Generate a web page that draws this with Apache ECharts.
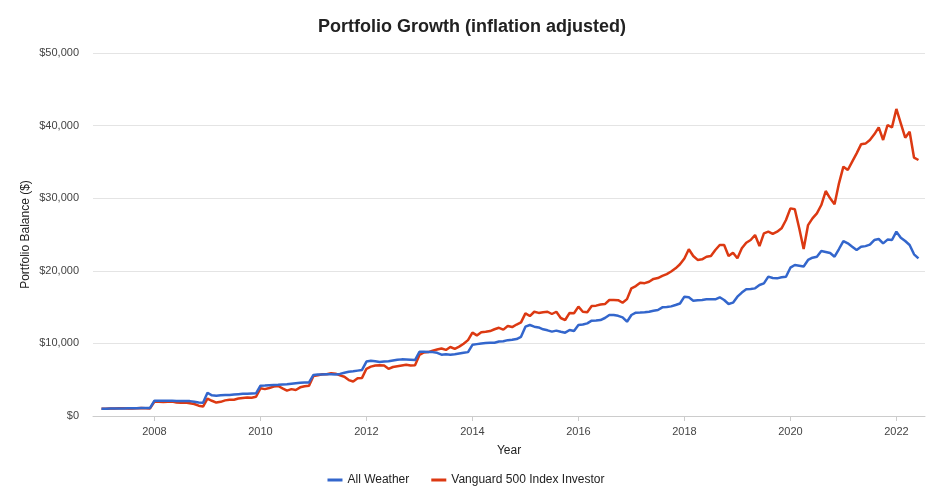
<!DOCTYPE html>
<html><head><meta charset="utf-8">
<script src="https://cdn.jsdelivr.net/npm/echarts@6/dist/echarts.min.js"></script>
<style>html,body{margin:0;padding:0;background:#fff}#c{width:932px;height:491px}</style>
</head><body><div id="c"></div>
<script>
// Monthly balances, starting Jan 2007 (index 0 = start), one value per month-end
const startYear = 2007;
const seriesNames = ['All Weather', 'Vanguard 500 Index Investor'];
const allWeather = [
  1000, 1010, 1020, 1030, 1040, 1050, 1060, 1070, 1080, 1090, 1100, 1110,
  2110, 2110, 2100, 2100, 2090, 2080, 2070, 2060, 2050, 1960, 1850, 1830,
  3200, 2850, 2800, 2850, 2900, 2900, 2950, 3000, 3050, 3050, 3100, 3120,
  4180, 4200, 4240, 4280, 4300, 4340, 4380, 4450, 4520, 4580, 4620, 4630,
  5650, 5700, 5720, 5750, 5740, 5720, 5800, 5950, 6100, 6150, 6250, 6350,
  7500, 7600, 7550, 7450, 7500, 7550, 7650, 7750, 7800, 7780, 7750, 7700,
  8850, 8850, 8800, 8800, 8700, 8450, 8500, 8450, 8500, 8600, 8700, 8800,
  9800, 9900, 10000, 10050, 10100, 10100, 10250, 10300, 10450, 10500, 10600, 10900,
  12300, 12530, 12300, 12200, 11940, 11800, 11620, 11760, 11600, 11480, 11850, 11710,
  12530, 12600, 12760, 13130, 13150, 13220, 13500, 13910, 13910, 13800, 13590, 12990,
  13910, 14230, 14250, 14300, 14370, 14500, 14600, 14970, 15000, 15100, 15290, 15500,
  16440, 16350, 15890, 15950, 15980, 16070, 16070, 16070, 16350, 15980, 15430, 15610,
  16440, 17000, 17450, 17500, 17580, 18040, 18270, 19190, 19000, 18960, 19100, 19190,
  20430, 20800, 20700, 20600, 21490, 21800, 21940, 22730, 22600, 22450, 21940, 23000,
  24100, 23780, 23320, 22870, 23300, 23400, 23600, 24240, 24380, 23780, 24300, 24240,
  25390, 24560, 24100, 23550, 22270, 21720
];
const vanguard500 = [
  1000, 1010, 1030, 1050, 1070, 1060, 1040, 1050, 1080, 1100, 1060, 1050,
  2000, 1950, 1920, 1960, 1990, 1850, 1830, 1850, 1750, 1650, 1420, 1300,
  2400, 2100, 1850, 1950, 2150, 2250, 2250, 2400, 2480, 2550, 2520, 2650,
  3810, 3700, 3850, 4050, 4130, 3800, 3500, 3700, 3580, 3950, 4100, 4180,
  5500, 5600, 5750, 5750, 5900, 5830, 5600, 5400, 4950, 4750, 5200, 5250,
  6500, 6800, 6950, 7000, 6950, 6500, 6750, 6850, 6950, 7050, 6950, 7000,
  8400, 8750, 8800, 9000, 9150, 9300, 9100, 9500, 9250, 9550, 9950, 10450,
  11480, 11100, 11550, 11600, 11700, 11950, 12150, 11900, 12400, 12250, 12600, 12900,
  14140, 13770, 14360, 14200, 14300, 14360, 14050, 14360, 13500, 13220, 14200, 14150,
  15060, 14360, 14300, 15150, 15200, 15350, 15420, 15980, 15980, 15950, 15600, 16100,
  17590, 17900, 18360, 18300, 18500, 18880, 19000, 19300, 19550, 19900, 20340, 20900,
  21700, 22960, 22040, 21500, 21580, 21940, 22040, 22870, 23550, 23550, 22040, 22500,
  21720, 23100, 23870, 24240, 24930, 23410, 25160, 25390, 25080, 25390, 25850, 27000,
  28600, 28470, 25850, 23000, 26300, 27230, 27920, 29060, 30990, 29980, 29160, 32050,
  34340, 33880, 35030, 36180, 37420, 37520, 38020, 38800, 39760, 38020, 40080, 39750,
  42290, 40320, 38340, 39160, 35580, 35260
];
const xTickYears = [2008, 2010, 2012, 2014, 2016, 2018, 2020, 2022];
const yTicks = [0, 10000, 20000, 30000, 40000, 50000];

const toPoints = arr => arr.map((v, i) => [startYear + i / 12, v]);
const FONT = '"Liberation Sans", Arial, sans-serif';

const chart = echarts.init(document.getElementById('c'), null, {renderer: 'canvas'});
chart.setOption({
  animation: false,
  color: ['#3366cc', '#dc3912'],
  title: {
    text: 'Portfolio Growth (inflation adjusted)',
    left: 313, top: 13,
    textStyle: {fontFamily: FONT, fontSize: 18, fontWeight: 'bold', color: '#222'}
  },
  legend: {
    bottom: 0, left: 'center',
    itemWidth: 15, itemHeight: 3, itemGap: 22,
    icon: 'rect',
    textStyle: {fontFamily: FONT, fontSize: 12, color: '#222'},
    data: seriesNames
  },
  grid: {left: 93, right: 7, top: 53, bottom: 75},
  xAxis: {
    type: 'value',
    min: 2006.84, max: 2022.54,
    name: 'Year', nameLocation: 'middle', nameGap: 29,
    nameTextStyle: {fontFamily: FONT, fontSize: 12, color: '#222'},
    axisLine: {show: true, lineStyle: {color: '#ccc'}},
    axisTick: {show: true, customValues: xTickYears, length: 5, lineStyle: {color: '#ccc'}},
    axisLabel: {customValues: xTickYears, fontFamily: FONT, fontSize: 11, color: '#444', margin: 10,
      formatter: v => String(Math.round(v))},
    splitLine: {show: false}
  },
  yAxis: {
    type: 'value',
    min: yTicks[0], max: yTicks[yTicks.length - 1], interval: 10000,
    name: 'Portfolio Balance ($)', nameLocation: 'middle', nameGap: 61, nameRotate: 90,
    nameMoveOverlap: false,
    nameTextStyle: {fontFamily: FONT, fontSize: 12, color: '#222'},
    axisLine: {show: false},
    axisTick: {show: false},
    axisLabel: {fontFamily: FONT, fontSize: 11, color: '#444', margin: 14,
      formatter: v => '$' + v.toLocaleString('en-US')},
    splitLine: {lineStyle: {color: '#e4e4e4'}}
  },
  series: [
    {name: seriesNames[0], type: 'line', data: toPoints(allWeather), showSymbol: false,
     lineStyle: {width: 2.5}, z: 3},
    {name: seriesNames[1], type: 'line', data: toPoints(vanguard500), showSymbol: false,
     lineStyle: {width: 2.5}, z: 2}
  ]
});
</script>
</body></html>
